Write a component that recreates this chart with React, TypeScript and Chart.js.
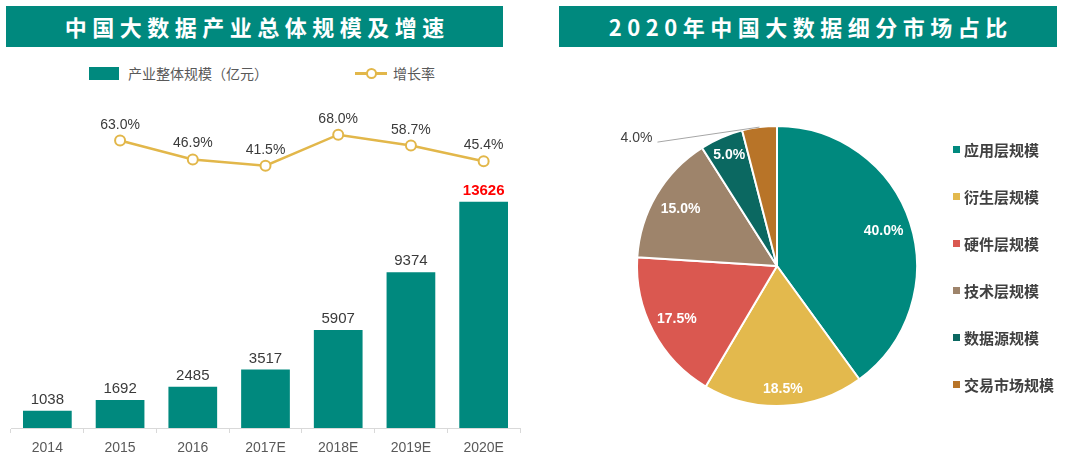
import React, { useEffect, useRef } from "react";
import { Chart, registerables } from "chart.js";

Chart.register(...registerables);

// ---------- data ----------
const years = ["2014", "2015", "2016", "2017E", "2018E", "2019E", "2020E"];
const industryScale = [1038, 1692, 2485, 3517, 5907, 9374, 13626];
const growthRates: (number | null)[] = [null, 63.0, 46.9, 41.5, 68.0, 58.7, 45.4];

const segments = ["应用层规模", "衍生层规模", "硬件层规模", "技术层规模", "数据源规模", "交易市场规模"];
const segmentShares = [40.0, 18.5, 17.5, 15.0, 5.0, 4.0];

// ---------- styles ----------
const TEAL = "#00897E";
const GOLD = "#E2B74A";
const segmentColors = ["#00897E", "#E3B94D", "#DA5850", "#9E846B", "#0B6861", "#B87428"];
const labelRadius = [0.8, 0.88, 0.81, 0.8, 0.86, 1];
const NUM_FONT = '"Liberation Sans", Arial, sans-serif';
const CJK_FONT = '"Noto Sans CJK SC", "Noto Sans", sans-serif';

const barLabelPlugin = {
  id: "barLabels",
  afterDatasetsDraw(chart: any) {
    const ctx = chart.ctx;
    ctx.save();
    ctx.textAlign = "center";
    ctx.textBaseline = "alphabetic";
    const barMeta = chart.getDatasetMeta(1);
    barMeta.data.forEach((el: any, i: number) => {
      const last = i === industryScale.length - 1;
      ctx.font = `${last ? "bold " : ""}15px ${NUM_FONT}`;
      ctx.fillStyle = last ? "#FF0000" : "#3A3A3A";
      ctx.fillText(String(industryScale[i]), el.x, el.y - 7);
    });
    const lineMeta = chart.getDatasetMeta(0);
    lineMeta.data.forEach((el: any, i: number) => {
      const v = growthRates[i];
      if (v == null) return;
      ctx.font = `14px ${NUM_FONT}`;
      ctx.fillStyle = "#3A3A3A";
      ctx.fillText(v.toFixed(1) + "%", el.x, el.y - 12);
    });
    ctx.restore();
  },
};

const pieLabelPlugin = {
  id: "pieLabels",
  afterDatasetsDraw(chart: any) {
    const ctx = chart.ctx;
    ctx.save();
    const meta = chart.getDatasetMeta(0);
    meta.data.forEach((arc: any, i: number) => {
      const { x, y, startAngle, endAngle, outerRadius } = arc.getProps(
        ["x", "y", "startAngle", "endAngle", "outerRadius"],
        true
      );
      const mid = (startAngle + endAngle) / 2;
      const text = segmentShares[i].toFixed(1) + "%";
      if (i === segmentShares.length - 1) {
        // small slice: callout outside with leader line
        const ox = x + Math.cos(mid) * outerRadius;
        const oy = y + Math.sin(mid) * outerRadius;
        const ex = ox - 102;
        const ey = oy + 15;
        ctx.strokeStyle = "#A6A6A6";
        ctx.lineWidth = 1;
        ctx.beginPath();
        ctx.moveTo(ox, oy);
        ctx.lineTo(ex, ey);
        ctx.stroke();
        ctx.font = `14px ${NUM_FONT}`;
        ctx.fillStyle = "#404040";
        ctx.textAlign = "right";
        ctx.textBaseline = "middle";
        ctx.fillText(text, ex - 5, ey - 4);
      } else {
        const r = outerRadius * labelRadius[i];
        ctx.font = `bold 14px ${NUM_FONT}`;
        ctx.fillStyle = "#FFFFFF";
        ctx.textAlign = "center";
        ctx.textBaseline = "middle";
        ctx.fillText(text, x + Math.cos(mid) * r, y + Math.sin(mid) * r);
      }
    });
    ctx.restore();
  },
};

function BarLineChart() {
  const ref = useRef<HTMLCanvasElement>(null);
  useEffect(() => {
    const chart = new Chart(ref.current as HTMLCanvasElement, {
      data: {
        labels: years,
        datasets: [
          {
            type: "line",
            label: "增长率",
            data: growthRates,
            yAxisID: "y2",
            borderColor: GOLD,
            borderWidth: 2.5,
            pointRadius: 5,
            pointBorderWidth: 2,
            pointBackgroundColor: "#FFFFFF",
            pointBorderColor: GOLD,
            order: 0,
          } as any,
          {
            type: "bar",
            label: "产业整体规模（亿元）",
            data: industryScale,
            yAxisID: "y",
            backgroundColor: TEAL,
            categoryPercentage: 1,
            barPercentage: 0.67,
            order: 1,
          } as any,
        ],
      },
      options: {
        animation: false,
        responsive: false,
        layout: { padding: { left: 11, right: 20, top: 10, bottom: 0 } },
        plugins: { legend: { display: false }, tooltip: { enabled: false } },
        scales: {
          x: {
            grid: {
              offset: true,
              drawOnChartArea: false,
              drawTicks: true,
              tickLength: 5,
              color: "#D9D9D9",
            },
            border: { color: "#D9D9D9", width: 1 },
            ticks: {
              color: "#595959",
              font: { family: NUM_FONT, size: 14 },
              padding: 7,
            },
            afterFit: (s: any) => {
              s.height = 42;
            },
          },
          y: { display: false, min: 0, max: 19750 },
          y2: { display: false, min: -182.3, max: 97.6 },
        },
      },
      plugins: [barLabelPlugin],
    });
    return () => chart.destroy();
  }, []);
  return (
    <canvas
      ref={ref}
      width={540}
      height={380}
      style={{ position: "absolute", left: 0, top: 90, width: 540, height: 380 }}
    />
  );
}

function PieChart() {
  const ref = useRef<HTMLCanvasElement>(null);
  useEffect(() => {
    const chart = new Chart(ref.current as HTMLCanvasElement, {
      type: "pie",
      data: {
        labels: segments,
        datasets: [
          {
            data: segmentShares,
            backgroundColor: segmentColors,
            borderColor: "#FFFFFF",
            borderWidth: 2,
          },
        ],
      },
      options: {
        animation: false,
        responsive: false,
        layout: { padding: { left: 76, top: 25, right: 162, bottom: 53 } },
        plugins: { legend: { display: false }, tooltip: { enabled: false } },
      },
      plugins: [pieLabelPlugin],
    });
    return () => chart.destroy();
  }, []);
  return (
    <canvas
      ref={ref}
      width={520}
      height={360}
      style={{ position: "absolute", left: 560, top: 100, width: 520, height: 360 }}
    />
  );
}

const bannerStyle = (left: number, width: number): React.CSSProperties => ({
  position: "absolute",
  left,
  top: 6,
  width,
  height: 41,
  background: TEAL,
  color: "#FFFFFF",
  fontFamily: CJK_FONT,
  fontWeight: 700,
  fontSize: 22,
  letterSpacing: 5.5,
  paddingLeft: 5.5,
  boxSizing: "border-box",
  lineHeight: "41px",
  textAlign: "center",
  whiteSpace: "nowrap",
});

export default function App() {
  return (
    <div
      style={{
        position: "absolute",
        left: 0,
        top: 0,
        width: 1080,
        height: 470,
        background: "#FFFFFF",
        overflow: "hidden",
      }}
    >
      <div style={bannerStyle(6, 497)}>中国大数据产业总体规模及增速</div>
      <div style={bannerStyle(559, 498)}>2020年中国大数据细分市场占比</div>

      {/* left legend */}
      <div style={{ position: "absolute", left: 89, top: 67, width: 30, height: 13, background: TEAL }} />
      <div
        style={{
          position: "absolute",
          left: 128,
          top: 63,
          fontFamily: CJK_FONT,
          fontSize: 14,
          lineHeight: "20px",
          color: "#595959",
          whiteSpace: "nowrap",
        }}
      >
        产业整体规模（亿元）
      </div>
      <div style={{ position: "absolute", left: 355, top: 72, width: 32, height: 2.5, background: GOLD }} />
      <div
        style={{
          position: "absolute",
          left: 366,
          top: 68,
          width: 7,
          height: 7,
          borderRadius: "50%",
          border: `2px solid ${GOLD}`,
          background: "#FFFFFF",
        }}
      />
      <div
        style={{
          position: "absolute",
          left: 393,
          top: 63,
          fontFamily: CJK_FONT,
          fontSize: 14,
          lineHeight: "20px",
          color: "#595959",
          whiteSpace: "nowrap",
        }}
      >
        增长率
      </div>

      <BarLineChart />
      <PieChart />

      {/* pie legend */}
      {segments.map((s, i) => (
        <div
          key={s}
          style={{
            position: "absolute",
            left: 953,
            top: 138 + i * 47,
            height: 22,
            display: "flex",
            alignItems: "center",
            whiteSpace: "nowrap",
          }}
        >
          <div style={{ width: 7, height: 7, background: segmentColors[i], marginRight: 4 }} />
          <span style={{ fontFamily: CJK_FONT, fontWeight: 700, fontSize: 15, color: "#404040" }}>{s}</span>
        </div>
      ))}
    </div>
  );
}
